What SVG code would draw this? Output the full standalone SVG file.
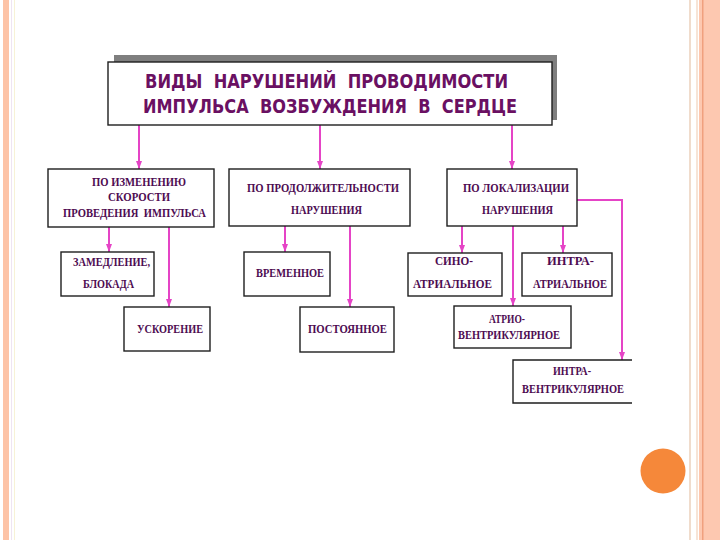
<svg xmlns="http://www.w3.org/2000/svg" width="720" height="540" viewBox="0 0 720 540">
<style>
.box{fill:#ffffff;stroke:#1e1e1e;stroke-width:1.4}
.t{font-family:"Liberation Serif","Times New Roman",serif;font-weight:bold;font-size:12.5px;fill:#4e0c52}
.title{font-family:"DejaVu Sans","Liberation Sans",sans-serif;font-weight:bold;font-size:20px;fill:#6a1062}
.c{fill:none;stroke:#e544c6;stroke-width:2}
</style>
<defs>
<marker id="ah" markerUnits="userSpaceOnUse" markerWidth="8" markerHeight="8" viewBox="0 0 8 8" refX="8" refY="4" orient="auto">
<path d="M0,1 L8,4 L0,7 Z" fill="#e544c6"/>
</marker>
</defs>
<rect width="720" height="540" fill="#ffffff"/>
<g id="frame">
<rect x="3" y="0" width="6" height="540" fill="#fdc3a6"/>
<rect x="11" y="0" width="1" height="540" fill="#efe4f2"/>
<rect x="14" y="0" width="1" height="540" fill="#f7f2d6"/>
<rect x="689" y="0" width="2" height="540" fill="#f0dccc"/>
<rect x="696" y="0" width="2" height="540" fill="#f7e4d6"/>
<rect x="699" y="0" width="21" height="540" fill="#fdc8b0"/>
<rect x="702" y="0" width="1.5" height="540" fill="#f0a07e"/>
<circle cx="663" cy="471" r="22.5" fill="#f5883a"/>
</g>
<g id="connectors">
<line class="c" x1="139" y1="125" x2="139" y2="169" marker-end="url(#ah)"/>
<line class="c" x1="320" y1="125" x2="320" y2="169" marker-end="url(#ah)"/>
<line class="c" x1="512" y1="125" x2="512" y2="169" marker-end="url(#ah)"/>
<line class="c" x1="109" y1="227" x2="109" y2="252" marker-end="url(#ah)"/>
<line class="c" x1="169" y1="227" x2="169" y2="307" marker-end="url(#ah)"/>
<line class="c" x1="285" y1="226" x2="285" y2="252" marker-end="url(#ah)"/>
<line class="c" x1="350" y1="226" x2="350" y2="307" marker-end="url(#ah)"/>
<line class="c" x1="462" y1="226" x2="462" y2="253" marker-end="url(#ah)"/>
<line class="c" x1="513" y1="226" x2="513" y2="306" marker-end="url(#ah)"/>
<line class="c" x1="563" y1="226" x2="563" y2="253" marker-end="url(#ah)"/>
<path class="c" d="M577,200 H622 V360" marker-end="url(#ah)"/>
</g>
<g id="title">
<rect x="114" y="55" width="443" height="65" fill="#7f7f7f"/>
<rect class="box" x="108" y="62" width="444" height="63"/>
<text class="title" x="145" y="88" textLength="363" lengthAdjust="spacingAndGlyphs" xml:space="preserve">ВИДЫ  НАРУШЕНИЙ  ПРОВОДИМОСТИ</text>
<text class="title" x="143" y="113" textLength="374" lengthAdjust="spacingAndGlyphs" xml:space="preserve">ИМПУЛЬСА  ВОЗБУЖДЕНИЯ  В  СЕРДЦЕ</text>
</g>
<g id="speed">
<rect class="box" x="48" y="169" width="166" height="58"/>
<text class="t" x="92" y="186" textLength="94" lengthAdjust="spacingAndGlyphs">ПО ИЗМЕНЕНИЮ</text>
<text class="t" x="108" y="201" textLength="62" lengthAdjust="spacingAndGlyphs">СКОРОСТИ</text>
<text class="t" x="63" y="217" textLength="143" lengthAdjust="spacingAndGlyphs" xml:space="preserve">ПРОВЕДЕНИЯ  ИМПУЛЬСА</text>
</g>
<g id="duration">
<rect class="box" x="229" y="169" width="181" height="57"/>
<text class="t" x="247" y="192" textLength="152" lengthAdjust="spacingAndGlyphs">ПО ПРОДОЛЖИТЕЛЬНОСТИ</text>
<text class="t" x="291" y="214" textLength="71" lengthAdjust="spacingAndGlyphs">НАРУШЕНИЯ</text>
</g>
<g id="localization">
<rect class="box" x="447" y="169" width="130" height="57"/>
<text class="t" x="463" y="192" textLength="106" lengthAdjust="spacingAndGlyphs">ПО ЛОКАЛИЗАЦИИ</text>
<text class="t" x="482" y="214" textLength="71" lengthAdjust="spacingAndGlyphs">НАРУШЕНИЯ</text>
</g>
<g id="slowing">
<rect class="box" x="61" y="252" width="93" height="44"/>
<text class="t" x="73" y="266" textLength="77" lengthAdjust="spacingAndGlyphs">ЗАМЕДЛЕНИЕ,</text>
<text class="t" x="83" y="288" textLength="51" lengthAdjust="spacingAndGlyphs">БЛОКАДА</text>
</g>
<g id="acceleration">
<rect class="box" x="124" y="307" width="86" height="44"/>
<text class="t" x="137" y="333" textLength="66" lengthAdjust="spacingAndGlyphs">УСКОРЕНИЕ</text>
</g>
<g id="temporary">
<rect class="box" x="244" y="252" width="86" height="44"/>
<text class="t" x="256" y="277" textLength="68" lengthAdjust="spacingAndGlyphs">ВРЕМЕННОЕ</text>
</g>
<g id="permanent">
<rect class="box" x="300" y="307" width="94" height="45"/>
<text class="t" x="308" y="333" textLength="79" lengthAdjust="spacingAndGlyphs">ПОСТОЯННОЕ</text>
</g>
<g id="sinoatrial">
<rect class="box" x="408" y="253" width="94" height="43"/>
<text class="t" x="435" y="265" textLength="38" lengthAdjust="spacingAndGlyphs">СИНО-</text>
<text class="t" x="413" y="288" textLength="79" lengthAdjust="spacingAndGlyphs">АТРИАЛЬНОЕ</text>
</g>
<g id="intraatrial">
<rect class="box" x="522" y="253" width="90" height="43"/>
<text class="t" x="547" y="265" textLength="47" lengthAdjust="spacingAndGlyphs">ИНТРА-</text>
<text class="t" x="533" y="288" textLength="74" lengthAdjust="spacingAndGlyphs">АТРИАЛЬНОЕ</text>
</g>
<g id="atrioventricular">
<rect class="box" x="454" y="306" width="117" height="42"/>
<text class="t" x="489" y="323" textLength="36" lengthAdjust="spacingAndGlyphs">АТРИО-</text>
<text class="t" x="458" y="339" textLength="102" lengthAdjust="spacingAndGlyphs">ВЕНТРИКУЛЯРНОЕ</text>
</g>
<g id="intraventricular">
<path d="M632,360 H513 V403 H632" fill="#ffffff" stroke="#1e1e1e" stroke-width="1.4"/>
<text class="t" x="553" y="375" textLength="38" lengthAdjust="spacingAndGlyphs">ИНТРА-</text>
<text class="t" x="522" y="393" textLength="102" lengthAdjust="spacingAndGlyphs">ВЕНТРИКУЛЯРНОЕ</text>
</g>
</svg>
